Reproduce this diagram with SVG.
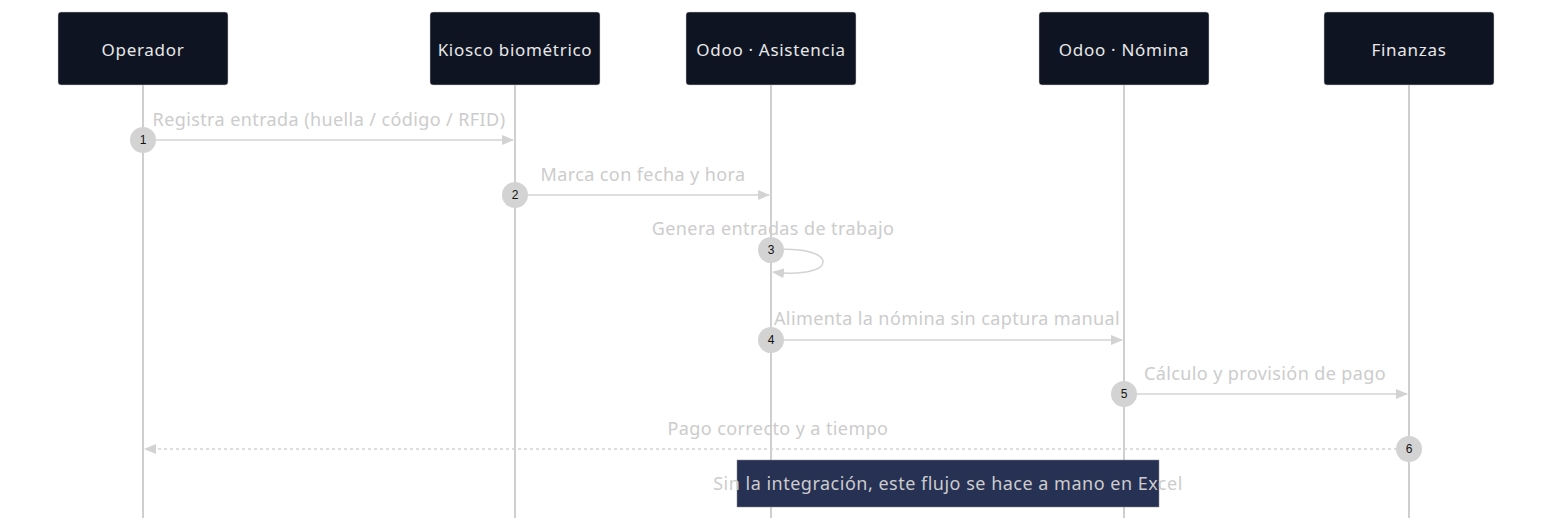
<svg xmlns="http://www.w3.org/2000/svg" width="1568" height="526" viewBox="0 0 1568 526">
<style>
.actor rect{fill:#0f1423;stroke:#cccccc;stroke-width:0.5}
.actor text{fill:#e8e8e8;font:17px "Noto Sans","Liberation Sans",sans-serif;letter-spacing:0.7px;text-anchor:middle;dominant-baseline:central}
.life{stroke:#cfcfcf;stroke-width:2}
.msg{stroke:#d3d3d3;stroke-width:1.5;fill:none}
.lbl{fill:#cccccc;font:18px "Noto Sans","Liberation Sans",sans-serif;letter-spacing:0.4px;text-anchor:middle}
.num circle{fill:#d3d3d3}
.num text{fill:#111;font:12px "Liberation Sans",sans-serif;text-anchor:middle;dominant-baseline:central}
</style>
<defs>
<marker id="ah" markerWidth="12" markerHeight="10" refX="11" refY="5" orient="auto" markerUnits="userSpaceOnUse"><path d="M0,0 L12,5 L0,10 z" fill="#d3d3d3"/></marker>
</defs>
<rect width="1568" height="526" fill="#fff"/>
<g id="lifelines">
<line class="life" x1="143" y1="85" x2="143" y2="518"/>
<line class="life" x1="515" y1="85" x2="515" y2="518"/>
<line class="life" x1="771" y1="85" x2="771" y2="518"/>
<line class="life" x1="1124" y1="85" x2="1124" y2="518"/>
<line class="life" x1="1409" y1="85" x2="1409" y2="518"/>
</g>
<g id="operador" class="actor"><rect x="58" y="12" width="170" height="73" rx="3"/><text x="143" y="49">Operador</text></g>
<g id="kiosco" class="actor"><rect x="430" y="12" width="170" height="73" rx="3"/><text x="515" y="49">Kiosco biométrico</text></g>
<g id="asistencia" class="actor"><rect x="686" y="12" width="170" height="73" rx="3"/><text x="771" y="49">Odoo · Asistencia</text></g>
<g id="nomina" class="actor"><rect x="1039" y="12" width="170" height="73" rx="3"/><text x="1124" y="49">Odoo · Nómina</text></g>
<g id="finanzas" class="actor"><rect x="1324" y="12" width="170" height="73" rx="3"/><text x="1409" y="49">Finanzas</text></g>
<g id="connectors">
<line class="msg" x1="143" y1="140" x2="513" y2="140" marker-end="url(#ah)"/>
<text class="lbl" x="329" y="126">Registra entrada (huella / código / RFID)</text>
<line class="msg" x1="515" y1="195" x2="769" y2="195" marker-end="url(#ah)"/>
<text class="lbl" x="643" y="181">Marca con fecha y hora</text>
<path class="msg" d="M771,250 C840,244 840,280 773,272" marker-end="url(#ah)"/>
<text class="lbl" x="773" y="235">Genera entradas de trabajo</text>
<line class="msg" x1="771" y1="340" x2="1122" y2="340" marker-end="url(#ah)"/>
<text class="lbl" x="947" y="325">Alimenta la nómina sin captura manual</text>
<line class="msg" x1="1124" y1="394" x2="1407" y2="394" marker-end="url(#ah)"/>
<text class="lbl" x="1265" y="380">Cálculo y provisión de pago</text>
<line class="msg" x1="1409" y1="449" x2="145" y2="449" stroke-dasharray="3,3" marker-end="url(#ah)"/>
<text class="lbl" x="778" y="435">Pago correcto y a tiempo</text>
</g>
<g id="numbers" class="num">
<circle cx="143" cy="140" r="13"/><text x="143" y="140">1</text>
<circle cx="515" cy="195" r="13"/><text x="515" y="195">2</text>
<circle cx="771" cy="250" r="13"/><text x="771" y="250">3</text>
<circle cx="771" cy="340" r="13"/><text x="771" y="340">4</text>
<circle cx="1124" cy="394" r="13"/><text x="1124" y="394">5</text>
<circle cx="1409" cy="449" r="13"/><text x="1409" y="449">6</text>
</g>
<g id="note">
<rect x="737" y="460" width="422" height="47" fill="#263154" stroke="#888" stroke-width="0.5"/>
<text x="948" y="490" fill="#cccccc" font-family="Noto Sans, Liberation Sans, sans-serif" font-size="18" letter-spacing="0.5" text-anchor="middle">Sin la integración, este flujo se hace a mano en Excel</text>
</g>
</svg>
